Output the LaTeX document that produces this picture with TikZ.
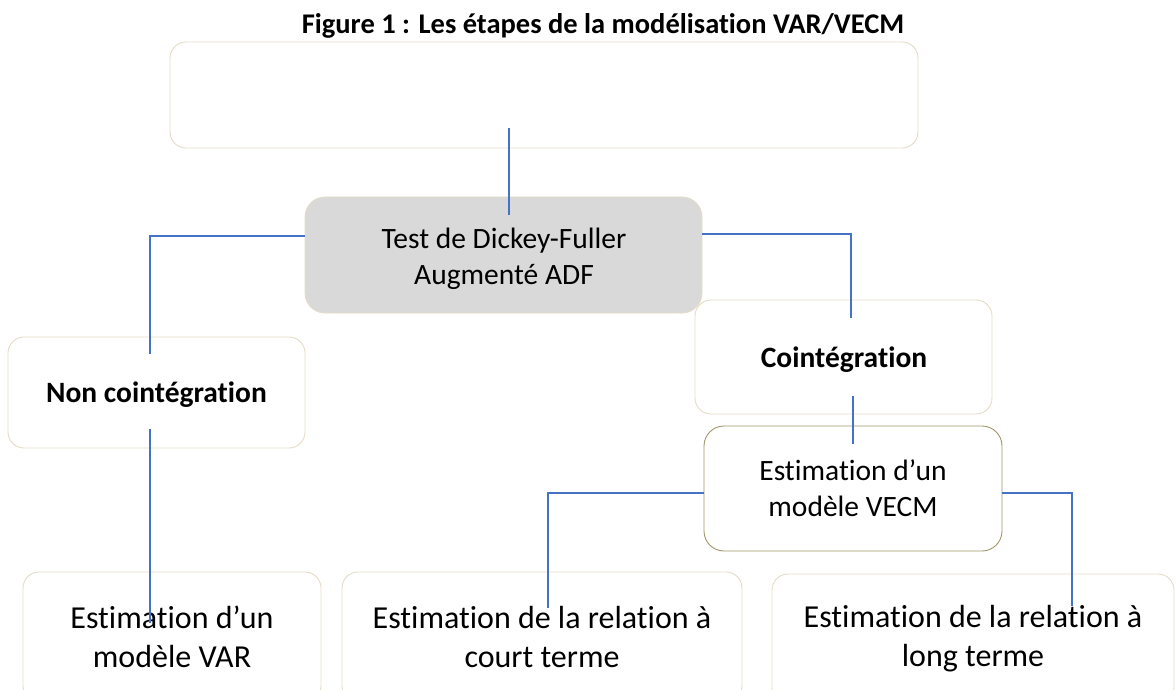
\documentclass[tikz,border=0pt]{standalone}
\usepackage{fontspec}
\setmainfont{Carlito}[Ligatures=NoCommon, RawFeature={-liga;-clig;-dlig;-calt}]
\usepackage{tikz}

\definecolor{edge}{HTML}{E4DCC6}
\definecolor{edgedark}{HTML}{A09668}
\definecolor{boxgray}{HTML}{D9D9D9}
\definecolor{linkblue}{HTML}{4472C4}

\begin{document}
\begin{tikzpicture}[x=1pt,y=-1pt,
    box/.style={draw=edge, line width=0.9pt, rounded corners=16pt, inner sep=0pt, align=center},
    mid/.style={font=\fontsize{29.5}{36}\selectfont},
    big/.style={font=\fontsize{32}{39}\selectfont},
    bold/.style={font=\fontsize{29.5}{36}\selectfont\bfseries},
    link/.style={draw=linkblue, line width=1.6pt}]
  \useasboundingbox (0,0) rectangle (1176,690);
  \node[font=\fontsize{28.5}{33}\selectfont\bfseries] (title) at (603,26) {Figure 1 : Les étapes de la modélisation VAR/VECM};
  \node[box, minimum width=748pt, minimum height=106pt] (top) at (544,95) {};
  \node[box, mid, fill=boxgray, rounded corners=20pt, minimum width=397pt, minimum height=116pt] (adf) at (503.5,255) {};
  \node[mid, align=center] (adftext) at (504,259) {Test de Dickey-Fuller\\Augmenté ADF};
  \node[box, minimum width=297pt, minimum height=111pt] (noncoint) at (156.5,392.5) {};
  \node[bold] (noncointtext) at (156.5,395) {Non cointégration};
  \node[box, minimum width=297pt, minimum height=114pt] (coint) at (843.5,357) {};
  \node[bold] (cointtext) at (844,360) {Cointégration};
  \node[box, mid, draw=edgedark, rounded corners=20pt, minimum width=298pt, minimum height=125pt] (vecm) at (853,488.5) {Estimation d’un\\modèle VECM};
  \node[box, big, minimum width=298pt, minimum height=130pt] (var) at (172,637) {Estimation d’un\\modèle VAR};
  \node[box, big, minimum width=400pt, minimum height=130pt] (court) at (542,637) {Estimation de la relation à\\court terme};
  \node[box, big, minimum width=402pt, minimum height=130pt] (long) at (973,639) {Estimation de la relation à\\long terme};

  \coordinate (s0) at (509,128);
  \coordinate (e0) at (509,215);
  \coordinate (e1) at (150,354);
  \coordinate (e2) at (851,318);
  \coordinate (s3) at (150,429);
  \coordinate (e3) at (150,623);
  \coordinate (s4) at (853,396);
  \coordinate (e4) at (853,444);
  \coordinate (e5) at (548,608);
  \coordinate (e6) at (1072,606);
  \draw[link] (s0) -- (e0);
  \draw[link] ([yshift=19pt]adf.west) -| (e1);
  \draw[link] ([yshift=21pt]adf.east) -| (e2);
  \draw[link] (s3) -- (e3);
  \draw[link] (s4) -- (e4);
  \draw[link] ([yshift=-4.5pt]vecm.west) -| (e5);
  \draw[link] ([yshift=-4.5pt]vecm.east) -| (e6);
\end{tikzpicture}
\end{document}
